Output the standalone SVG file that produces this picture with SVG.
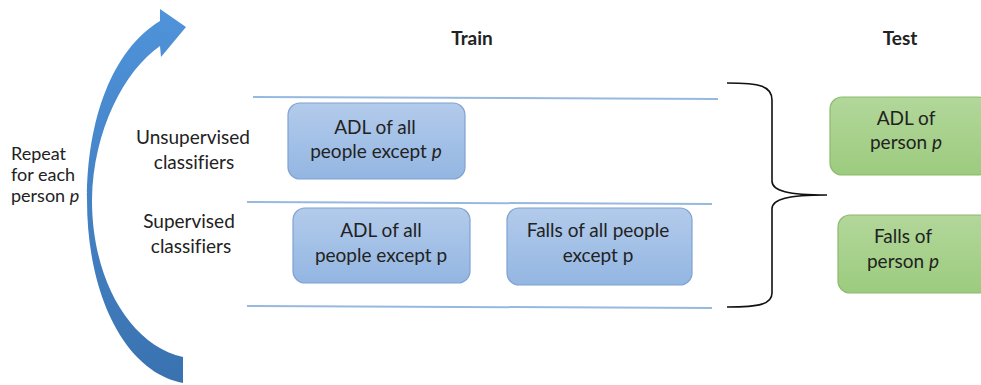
<svg xmlns="http://www.w3.org/2000/svg" width="981" height="385" viewBox="0 0 981 385">
<defs>
<linearGradient id="gBlue" x1="0" y1="0" x2="0" y2="1">
<stop offset="0" stop-color="#b3cbeb"/>
<stop offset="1" stop-color="#93b6e2"/>
</linearGradient>
<linearGradient id="gGreen" x1="0" y1="0" x2="0" y2="1">
<stop offset="0" stop-color="#b2d79a"/>
<stop offset="1" stop-color="#9ccb7e"/>
</linearGradient>
<linearGradient id="gArrow" x1="0" y1="0" x2="0" y2="1">
<stop offset="0" stop-color="#4f93da"/>
<stop offset="1" stop-color="#3a72b0"/>
</linearGradient>
</defs>
<style>
text{font-family:Lato,"Liberation Sans",sans-serif;font-size:19px;fill:#222;text-anchor:middle;font-variant-ligatures:none;font-feature-settings:"liga" 0}
.b{font-weight:bold}
.l{text-anchor:start;font-size:18px}
.bx{fill:url(#gBlue);stroke:#7fa2d2;stroke-width:1.2}
.gx{fill:url(#gGreen);stroke:#8cba6c;stroke-width:1.2}
.sep{stroke:#97b9df;stroke-width:2;fill:none}
</style>
<rect width="981" height="385" fill="#fff"/>

<g id="loop-arrow">
<path d="M183,383 C125,372 87,295 87,200 C87,120 112,50 160,21 L160,9 L186,27 L161,57 L160,46 C125,70 93,130 92,200 C92,280 130,345 183,357 Z" fill="url(#gArrow)"/>
</g>

<g id="labels">
<text class="b" x="472" y="45">Train</text>
<text class="b" x="900" y="45">Test</text>
<text class="l" x="11" y="160">Repeat</text>
<text class="l" x="11" y="181">for each</text>
<text class="l" x="11" y="202">person <tspan font-style="italic">p</tspan></text>
<text x="193" y="144">Unsupervised</text>
<text x="194" y="169">classifiers</text>
<text x="189" y="228">Supervised</text>
<text x="191" y="253">classifiers</text>
</g>

<g id="separators">
<line class="sep" x1="253" y1="97" x2="718" y2="99"/>
<line class="sep" x1="247" y1="202" x2="712" y2="204"/>
<line class="sep" x1="247" y1="306" x2="712" y2="308"/>
</g>

<g id="train-unsup-adl">
<rect class="bx" x="288" y="103" width="177" height="76" rx="12"/>
<text x="375" y="134">ADL of all</text>
<text x="376" y="158">people except <tspan font-style="italic">p</tspan></text>
</g>

<g id="train-sup-adl">
<rect class="bx" x="293" y="208" width="177" height="75" rx="12"/>
<text x="381" y="237">ADL of all</text>
<text x="381" y="262">people except p</text>
</g>

<g id="train-sup-falls">
<rect class="bx" x="507" y="208" width="185" height="77" rx="12"/>
<text x="598" y="237">Falls of all people</text>
<text x="598" y="262">except p</text>
</g>

<g id="test-adl">
<rect class="gx" x="830" y="97" width="160" height="78" rx="12"/>
<text x="906" y="125">ADL of</text>
<text x="906" y="149">person <tspan font-style="italic">p</tspan></text>
</g>

<g id="test-falls">
<rect class="gx" x="838" y="215" width="160" height="78" rx="12"/>
<text x="903" y="243">Falls of</text>
<text x="903" y="268">person <tspan font-style="italic">p</tspan></text>
</g>

<g id="connectors">
<path d="M727,83 C760,83 772,86 772,100 L772,181 C772,191 788,195 827,195 C788,195 772,199 772,209 L772,293 C772,304 760,307 727,307" fill="none" stroke="#111" stroke-width="1.6"/>
</g>
</svg>
